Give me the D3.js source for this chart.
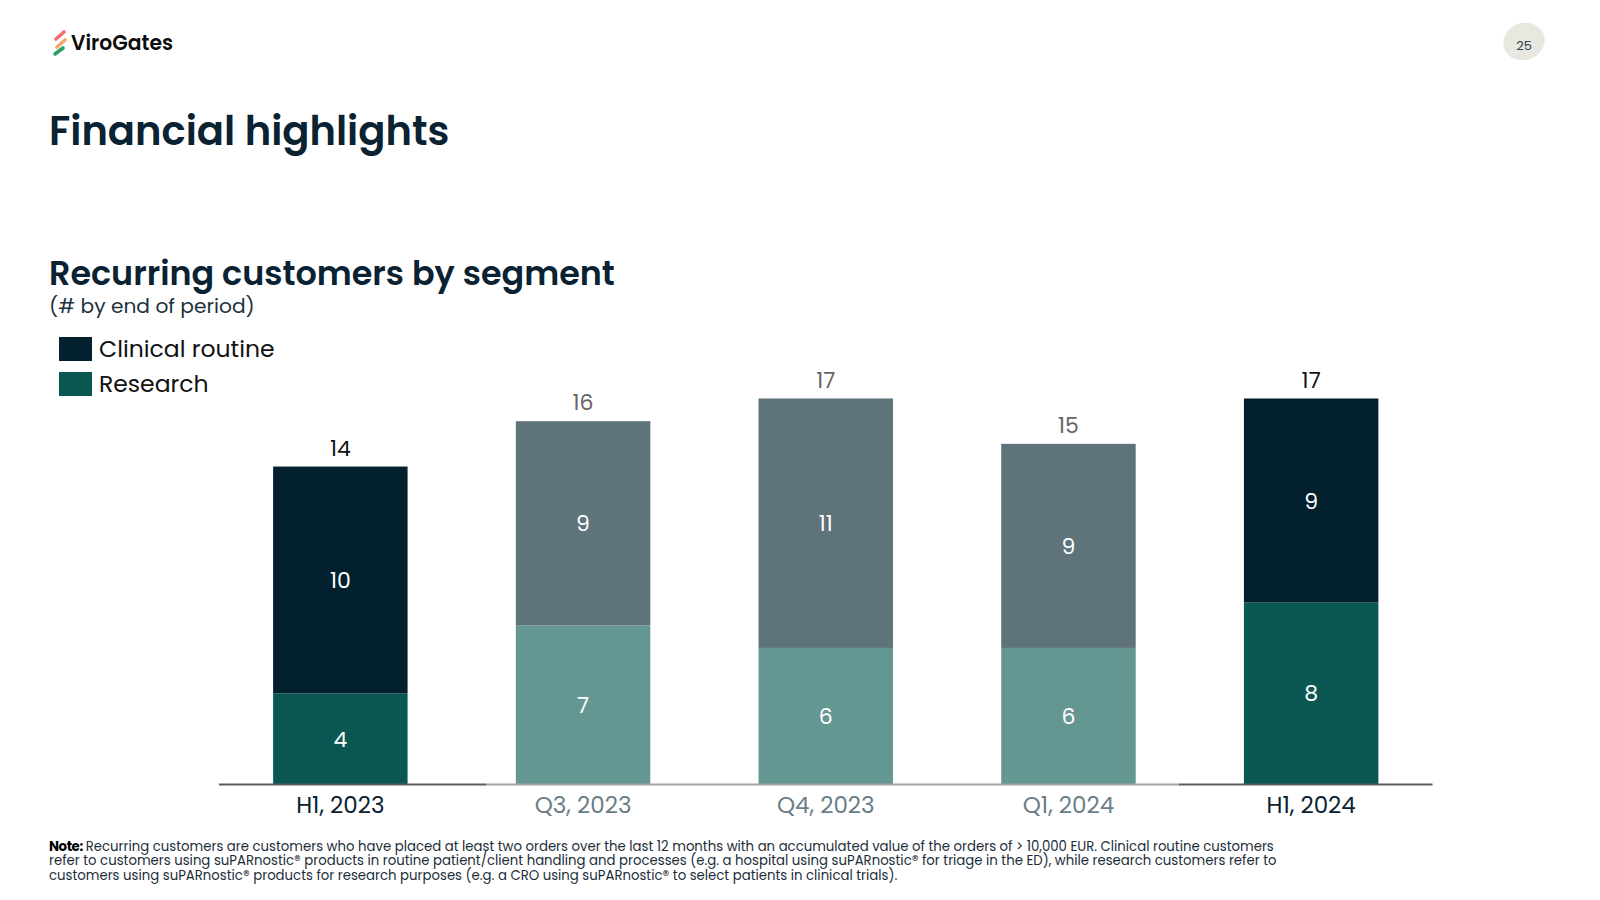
<!DOCTYPE html>
<html>
<head>
<meta charset="utf-8">
<script src="https://cdn.jsdelivr.net/npm/d3@7"></script>
<style>
  html, body { margin: 0; padding: 0; background: #fff; }
  svg { display: block; font-family: Poppins, Inter, "Open Sans", sans-serif; }
</style>
</head>
<body>
<svg id="chart" width="1600" height="900"></svg>
<script>
// ---- data ----
const categories = ["H1, 2023", "Q3, 2023", "Q4, 2023", "Q1, 2024", "H1, 2024"];
const clinicalRoutine = [10, 9, 11, 9, 9];
const research = [4, 7, 6, 6, 8];
const highlighted = [true, false, false, false, true];
const seriesNames = ["Clinical routine", "Research"];
const noteLines = [
  "Recurring customers are customers who have placed at least two orders over the last 12 months with an accumulated value of the orders of > 10,000 EUR. Clinical routine customers",
  "refer to customers using suPARnostic\u00AE products in routine patient/client handling and processes (e.g. a hospital using suPARnostic\u00AE for triage in the ED), while research customers refer to",
  "customers using suPARnostic\u00AE products for research purposes (e.g. a CRO using suPARnostic\u00AE to select patients in clinical trials)."
];

// ---- styles ----
const C = {
  clinical: "#03202f", research: "#0b5852",
  clinicalFaded: "#5f737b", researchFaded: "#649692",
  navy: "#0a2232"
};

const svg = d3.select("#chart");

// ---- header ----
const logo = svg.append("g");
[["#f2706a", 56, 39, 64, 32], ["#f5a769", 57, 47, 65, 40], ["#2e9e66", 55, 54, 63, 48]].forEach(d => {
  logo.append("line").attr("x1", d[1]).attr("y1", d[2]).attr("x2", d[3]).attr("y2", d[4])
    .attr("stroke", d[0]).attr("stroke-width", 3.6).attr("stroke-linecap", "round");
});
svg.append("text").attr("x", 71).attr("y", 50).attr("font-size", 20.3).attr("font-weight", 600)
  .attr("fill", "#0d0d0d").text("ViroGates");

svg.append("ellipse").attr("cx", 1524).attr("cy", 41.5).attr("rx", 21).attr("ry", 18.5)
  .attr("transform", "rotate(-20 1524 41.5)").attr("fill", "#e8e7e0");
svg.append("text").attr("x", 1524).attr("y", 50).attr("text-anchor", "middle")
  .attr("font-size", 13).attr("fill", "#2b4150").text("25");

svg.append("text").attr("x", 49).attr("y", 145).attr("font-size", 40.1).attr("font-weight", 600)
  .attr("fill", C.navy).text("Financial highlights");

svg.append("text").attr("x", 49).attr("y", 285).attr("font-size", 33.4).attr("font-weight", 600)
  .attr("fill", C.navy).text("Recurring customers by segment");
svg.append("text").attr("x", 49).attr("y", 313).attr("font-size", 20.2)
  .attr("fill", "#1c3340").text("(# by end of period)");

// legend
const legend = svg.append("g");
seriesNames.forEach((name, i) => {
  legend.append("rect").attr("x", 59).attr("y", 337 + i * 35).attr("width", 33).attr("height", 24)
    .attr("fill", i === 0 ? C.clinical : C.research);
  legend.append("text").attr("x", 99).attr("y", 357 + i * 35).attr("font-size", 23.5)
    .attr("fill", "#111").text(name);
});

// ---- chart ----
const x = d3.scaleBand().domain(categories).range([219, 1432.5]).paddingInner(0.446).paddingOuter(0.223);
const y = d3.scaleLinear().domain([0, 17]).range([784, 398.5]);

const rows = categories.map((c, i) => ({
  cat: c, clinical: clinicalRoutine[i], research: research[i],
  total: clinicalRoutine[i] + research[i], hl: highlighted[i]
}));
const stack = d3.stack().keys(["research", "clinical"])(rows);

const g = svg.append("g");
stack.forEach(layer => {
  layer.forEach(d => {
    const r = d.data;
    const col = layer.key === "clinical" ? (r.hl ? C.clinical : C.clinicalFaded)
                                         : (r.hl ? C.research : C.researchFaded);
    g.append("rect").attr("x", x(r.cat)).attr("width", x.bandwidth())
      .attr("y", y(d[1])).attr("height", y(d[0]) - y(d[1])).attr("fill", col);
    g.append("text").attr("x", x(r.cat) + x.bandwidth() / 2)
      .attr("y", (y(d[0]) + y(d[1])) / 2 + 8).attr("text-anchor", "middle")
      .attr("font-size", 22).attr("fill", "#fff").text(d[1] - d[0]);
  });
});

rows.forEach(r => {
  g.append("text").attr("x", x(r.cat) + x.bandwidth() / 2).attr("y", y(r.total) - 11)
    .attr("text-anchor", "middle").attr("font-size", 22)
    .attr("fill", r.hl ? "#111" : "#666").text(r.total);
});

// axis line segments
const axisY = y(0) + 0.5;
const splitA = 486, splitB = 1179;
[[x.range()[0], splitA, "#5b5b5b"], [splitA, splitB, "#a3a3a3"], [splitB, x.range()[1], "#5b5b5b"]]
  .forEach(s => g.append("line").attr("x1", s[0]).attr("x2", s[1]).attr("y1", axisY).attr("y2", axisY)
    .attr("stroke", s[2]).attr("stroke-width", 2));

const xAxis = svg.append("g").attr("transform", `translate(0,${axisY})`)
  .call(d3.axisBottom(x).tickSize(0).tickPadding(0));
xAxis.select(".domain").remove();
xAxis.selectAll(".tick text")
  .attr("y", 28.5).attr("dy", 0)
  .attr("font-family", "Poppins, Inter, sans-serif")
  .attr("font-size", 23)
  .attr("fill", (d, i) => highlighted[i] ? C.navy : "#6b7d86");

// ---- note ----
const note = svg.append("g");
const noteLabel = note.append("text").attr("x", 49).attr("y", 851).attr("font-size", 13.28)
  .attr("font-weight", 700).attr("fill", "#000").attr("letter-spacing", -0.4).text("Note:");
const labelW = noteLabel.node().getComputedTextLength();
noteLines.forEach((ln, i) => {
  note.append("text").attr("x", i === 0 ? 49 + labelW + 3 : 49).attr("y", 851 + i * 14.3)
    .attr("font-size", 13.28).attr("fill", "#1c2e3a").text(ln);
});
</script>
</body>
</html>
